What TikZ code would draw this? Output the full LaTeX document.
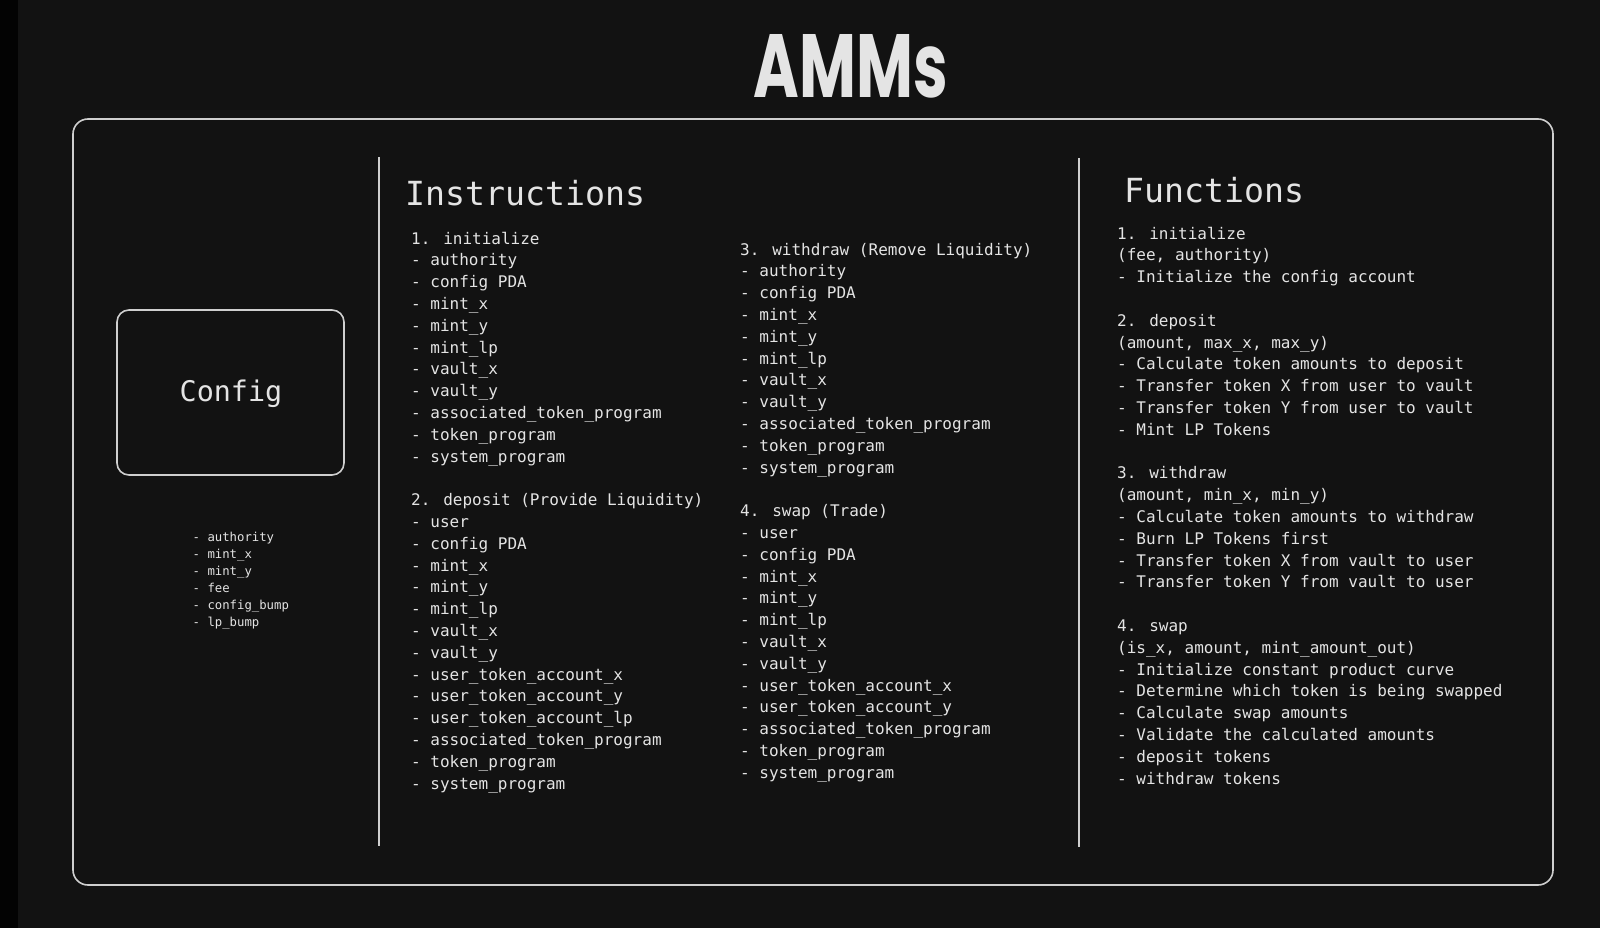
\documentclass[tikz,border=0pt]{standalone}
\usepackage{fontspec}
\newfontfamily\monof{DejaVu Sans Mono}
\newfontfamily\titlef{Poppins}
\definecolor{bg}{HTML}{121212}
\definecolor{strip}{HTML}{030303}
\definecolor{ink}{HTML}{E4E4E4}
\definecolor{edge}{HTML}{CFCFCF}
\tikzset{
  frame/.style={draw=edge, line width=1.6pt, inner sep=0pt},
  rule/.style={draw=edge, line width=1.8pt},
  li/.style={anchor=base west, inner sep=0pt, text=ink, font=\monof\fontsize{16}{18}\selectfont},
  small/.style={anchor=base west, inner sep=0pt, text=ink, font=\monof\fontsize{12.3}{14}\selectfont},
  head/.style={anchor=base west, inner sep=0pt, text=ink, font=\monof\fontsize{33.2}{36}\selectfont},
}
\begin{document}
\begin{tikzpicture}[x=1pt,y=-1pt]
\fill[bg] (0,0) rectangle (1600,928);
\fill[strip] (0,0) rectangle (18,928);
\useasboundingbox (0,0) rectangle (1600,928);

% title
\node[inner sep=0pt, text=ink] (title) at (851,66.5) {\resizebox{194pt}{63pt}{\titlef\bfseries AMMs}};

% outer frame
\node[frame, rounded corners=15pt, minimum width=1480pt, minimum height=766pt] (outer) at (813,502) {};

% dividers
\coordinate (d1t) at (379,157);
\coordinate (d1b) at (379,846);
\coordinate (d2t) at (1079,158);
\coordinate (d2b) at (1079,847);
\draw[rule] (d1t) -- (d1b);
\draw[rule] (d2t) -- (d2b);

% config box
\node[frame, rounded corners=12pt, minimum width=227pt, minimum height=165pt] (config) at (230.5,392.5) {};
\node[anchor=base, inner sep=0pt, text=ink, font=\monof\fontsize{28.4}{32}\selectfont] (configlbl) at (231,401.5) {Config};
\foreach [count=\i from 0] \t in {- authority, - mint\_x, - mint\_y, - fee, - config\_bump, - lp\_bump}
  \node[small, name=cf\i] at (192.5, 541+17*\i) {\t};

% headings
\node[head] (insth) at (405,205) {Instructions};
\node[head] (funch) at (1124,203) {Functions};

% instructions column 1
\foreach [count=\i from 0] \t in {1. initialize, - authority, - config PDA, - mint\_x, - mint\_y, - mint\_lp, - vault\_x, - vault\_y, - associated\_token\_program, - token\_program, - system\_program}
  \node[li, name=ia\i] at (411, 244+21.8*\i) {\t};
\foreach [count=\i from 12] \t in {2. deposit (Provide Liquidity), - user, - config PDA, - mint\_x, - mint\_y, - mint\_lp, - vault\_x, - vault\_y, - user\_token\_account\_x, - user\_token\_account\_y, - user\_token\_account\_lp, - associated\_token\_program, - token\_program, - system\_program}
  \node[li, name=ib\i] at (411, 244+21.8*\i) {\t};

% instructions column 2
\foreach [count=\i from 0] \t in {3. withdraw (Remove Liquidity), - authority, - config PDA, - mint\_x, - mint\_y, - mint\_lp, - vault\_x, - vault\_y, - associated\_token\_program, - token\_program, - system\_program}
  \node[li, name=ic\i] at (740, 255+21.8*\i) {\t};
\foreach [count=\i from 12] \t in {4. swap (Trade), - user, - config PDA, - mint\_x, - mint\_y, - mint\_lp, - vault\_x, - vault\_y, - user\_token\_account\_x, - user\_token\_account\_y, - associated\_token\_program, - token\_program, - system\_program}
  \node[li, name=id\i] at (740, 255+21.8*\i) {\t};

% functions
\foreach [count=\i from 0] \t in {1. initialize, {(fee, authority)}, - Initialize the config account}
  \node[li, name=fa\i] at (1117, 239+21.8*\i) {\t};
\foreach [count=\i from 4] \t in {2. deposit, {(amount, max\_x, max\_y)}, - Calculate token amounts to deposit, - Transfer token X from user to vault, - Transfer token Y from user to vault, - Mint LP Tokens}
  \node[li, name=fb\i] at (1117, 239+21.8*\i) {\t};
\foreach [count=\i from 11] \t in {3. withdraw, {(amount, min\_x, min\_y)}, - Calculate token amounts to withdraw, - Burn LP Tokens first, - Transfer token X from vault to user, - Transfer token Y from vault to user}
  \node[li, name=fc\i] at (1117, 239+21.8*\i) {\t};
\foreach [count=\i from 18] \t in {4. swap, {(is\_x, amount, mint\_amount\_out)}, - Initialize constant product curve, - Determine which token is being swapped, - Calculate swap amounts, - Validate the calculated amounts, - deposit tokens, - withdraw tokens}
  \node[li, name=fd\i] at (1117, 239+21.8*\i) {\t};
\end{tikzpicture}
\end{document}
